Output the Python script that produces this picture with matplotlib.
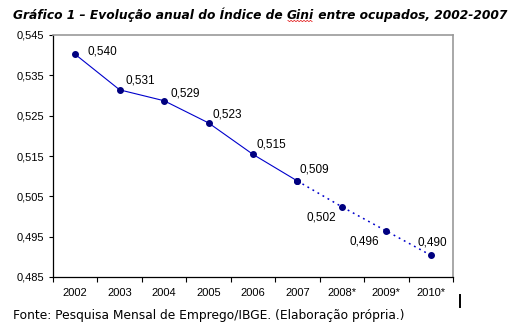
import matplotlib
matplotlib.use('Agg')
import matplotlib.pyplot as plt
import numpy as np
from matplotlib.lines import Line2D
from matplotlib.ticker import FixedLocator, NullFormatter, FixedFormatter

categories = ['2002', '2003', '2004', '2005', '2006', '2007', '2008*', '2009*', '2010*']
gini = [0.5402, 0.5314, 0.5287, 0.5232, 0.5154, 0.5088, 0.5024, 0.4964, 0.4904]
labels = ['0,540', '0,531', '0,529', '0,523', '0,515', '0,509', '0,502', '0,496', '0,490']
yticks = [0.485, 0.495, 0.505, 0.515, 0.525, 0.535, 0.545]
ytick_labels = ['0,485', '0,495', '0,505', '0,515', '0,525', '0,535', '0,545']
n_observed = 6

title_pre = 'Gráfico 1 – Evolução anual do Índice de '
title_word = 'Gini'
title_post = ' entre ocupados, 2002-2007'
source = 'Fonte: Pesquisa Mensal de Emprego/IBGE. (Elaboração própria.)'

W, H = 519, 334
fig = plt.figure(figsize=(W / 100, H / 100), dpi=100)
fig.patch.set_facecolor('white')
ax = fig.add_axes([53 / W, 1 - 277 / H, 400 / W, 242 / H])

x = np.arange(len(categories))
line_col = '#0000CC'
mk_col = '#000080'
ax.plot(x[:n_observed], gini[:n_observed], color=line_col, lw=0.8,
        marker='o', ms=4, mfc=mk_col, mec=mk_col, zorder=3)
ax.plot(x[n_observed - 1:], gini[n_observed - 1:], color=line_col, lw=1.1,
        ls=(0, (1.2, 2.6)), marker='o', ms=4, mfc=mk_col, mec=mk_col, zorder=3)

# label offsets in points (style)
offsets = [(8.6, 2.2, 'left'), (4.3, 6.5, 'left'), (4.3, 5.0, 'left'),
           (2.9, 5.8, 'left'), (2.2, 7.2, 'left'), (1.4, 8.6, 'left'),
           (-4.3, -7.9, 'right'), (-5.0, -7.2, 'right'), (1.4, 9.4, 'center')]
for xi, yi, lab, (dx, dy, ha) in zip(x, gini, labels, offsets):
    ax.annotate(lab, (xi, yi), xytext=(dx, dy), textcoords='offset points',
                ha=ha, va='center', fontsize=8.5, family='Liberation Sans', color='black')

ax.set_xlim(-0.5, len(categories) - 0.5)
ax.set_ylim(0.485, 0.545)
ax.xaxis.set_major_locator(FixedLocator(np.arange(-0.5, len(categories), 1)))
ax.xaxis.set_major_formatter(NullFormatter())
ax.xaxis.set_minor_locator(FixedLocator(x))
ax.xaxis.set_minor_formatter(FixedFormatter(categories))
ax.tick_params(axis='x', which='major', length=3.5, width=0.8, direction='out')
ax.tick_params(axis='x', which='minor', length=0, pad=8.0, labelsize=8)
ax.set_yticks(yticks)
ax.set_yticklabels(ytick_labels)
ax.tick_params(axis='y', length=3, width=0.8, pad=3.5, labelsize=8)
for lab in ax.get_xticklabels(minor=True) + ax.get_yticklabels():
    lab.set_family('Liberation Sans')

for s in ['left', 'bottom']:
    ax.spines[s].set_color('black')
    ax.spines[s].set_linewidth(0.9)
for s in ['top', 'right']:
    ax.spines[s].set_color('#999999')
    ax.spines[s].set_linewidth(1.2)

# title with underlined (spell-check) word
tsize = 8.85
ty = 1 - 19 / H
renderer = fig.canvas.get_renderer()
kw = dict(fontsize=tsize, fontweight='bold', fontstyle='italic',
          family='DejaVu Sans', va='baseline', ha='left')
t1 = fig.text(13 / W, ty, title_pre, **kw)
bb1 = t1.get_window_extent(renderer)
t2 = fig.text(bb1.x1 / W, ty, title_word, **kw)
bb2 = t2.get_window_extent(renderer)
t3 = fig.text(bb2.x1 / W, ty, title_post, **kw)
nw = 16
wx = np.linspace(bb2.x0 + 1, bb2.x1 - 2, nw)
wy = (H - 21.0) + 0.6 * np.where(np.arange(nw) % 2 == 0, 1, -1)
fig.add_artist(Line2D(wx / W, wy / H, color='#E00000', lw=0.5, transform=fig.transFigure))

fig.text(13 / W, 1 - 316 / H, source, fontsize=8.8, family='DejaVu Sans', va='center', ha='left')

# text-cursor mark
fig.add_artist(Line2D([460 / W, 460 / W], [1 - 295 / H, 1 - 307 / H], color='black', lw=1.4,
                      transform=fig.transFigure))

fig.savefig('out.png', dpi=100, facecolor='white')
